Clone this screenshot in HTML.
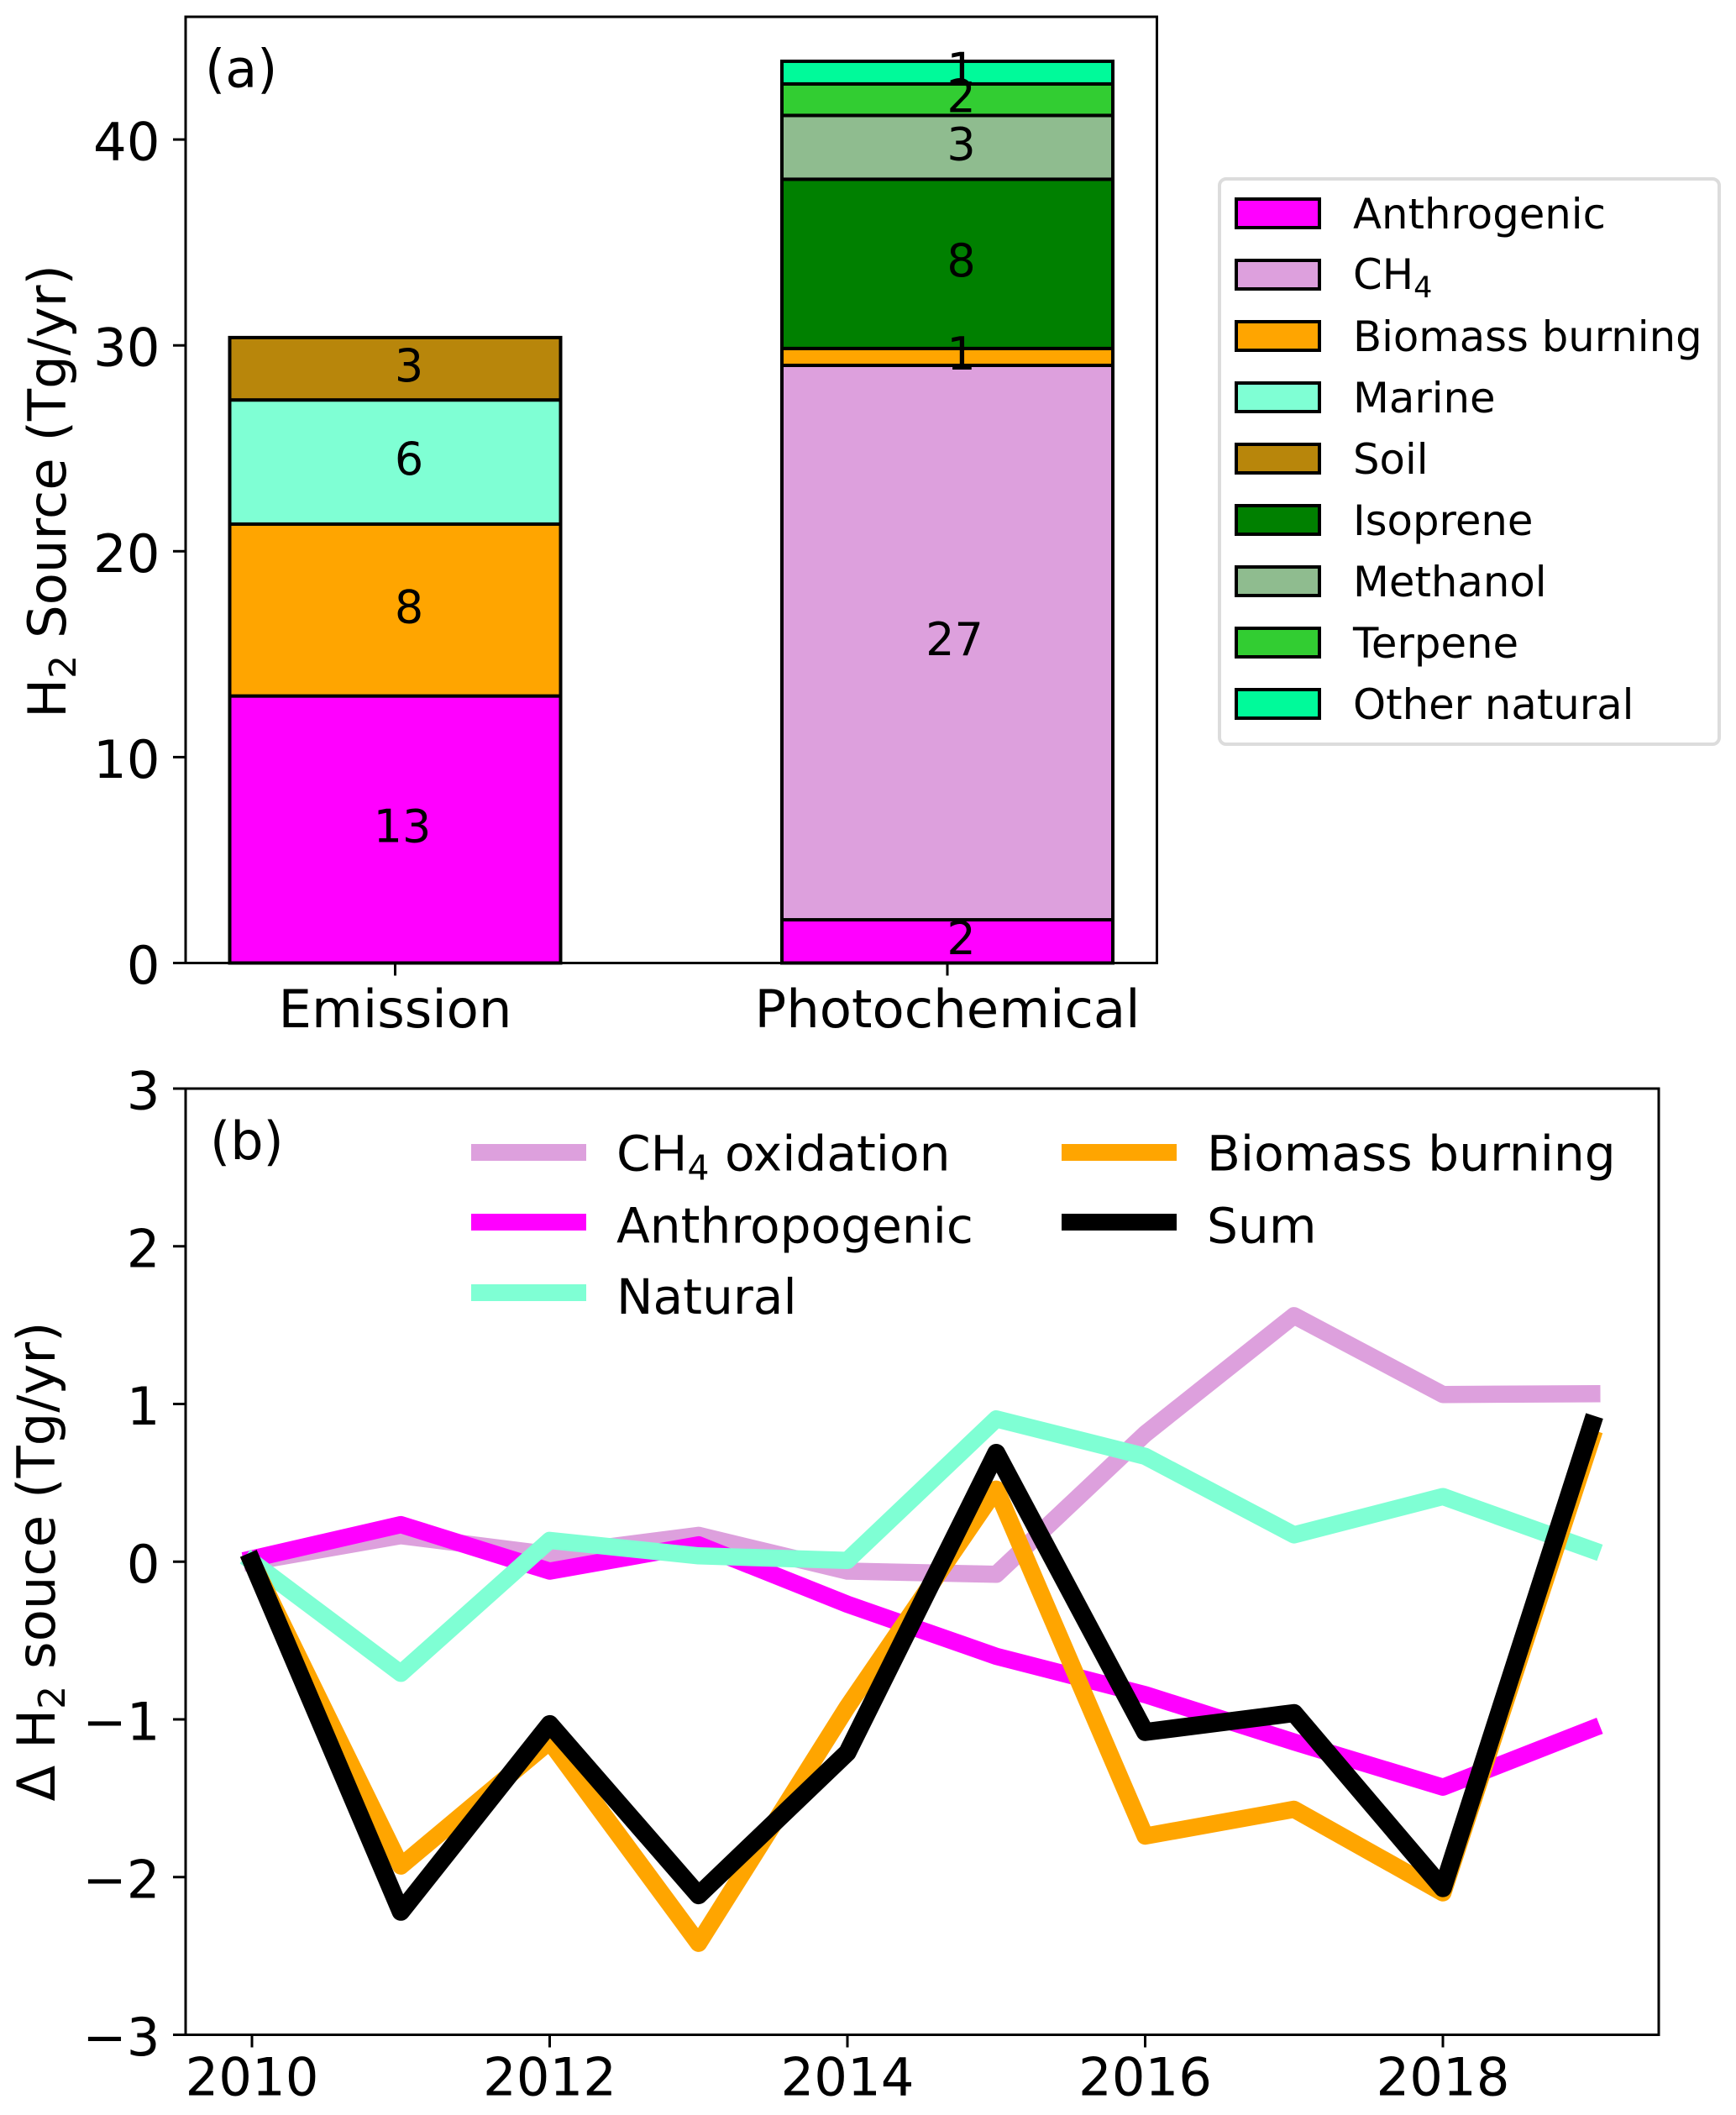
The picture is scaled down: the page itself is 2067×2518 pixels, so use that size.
<!DOCTYPE html>
<html>
<head>
<meta charset="utf-8">
<title>H2 source chart</title>
<style>
html,body{margin:0;padding:0;background:#fff;}
svg{display:block;}
text{font-family:"DejaVu Sans","Liberation Sans",sans-serif;fill:#000;}
</style>
</head>
<body>
<svg id="chart" xmlns="http://www.w3.org/2000/svg" width="2067" height="2518" viewBox="0 0 2067 2518">
  <rect x="0" y="0" width="2067" height="2518" fill="#fff"/>
  <g id="bars-layer"></g>
  <g id="bar-labels-layer"></g>
  <rect x="221" y="20" width="1156.5" height="1126.5" fill="none" stroke="#000" stroke-width="3"/>
  <g id="ticks-a"></g>
  <text x="244" y="103.5" font-size="62">(a)</text>
  <text transform="translate(78,585) rotate(-90)" font-size="62.5" text-anchor="middle">H<tspan font-size="44" dy="12">2</tspan><tspan dy="-12"> Source (Tg/yr)</tspan></text>

  <g>
    <rect x="1452" y="213" width="595" height="673" rx="8" ry="8" fill="#fff" stroke="#dcdcdc" stroke-width="4"/>
    <g><rect x="1472" y="237" width="99" height="34" fill="#ff00ff" stroke="#000" stroke-width="4"/><text x="1611" y="272" font-size="49.7">Anthrogenic</text></g>
    <g><rect x="1472" y="310" width="99" height="34" fill="#dda0dd" stroke="#000" stroke-width="4"/><text x="1611" y="344" font-size="49.7">CH<tspan font-size="35" dy="10">4</tspan></text></g>
    <g><rect x="1472" y="383" width="99" height="34" fill="#ffa500" stroke="#000" stroke-width="4"/><text x="1611" y="418" font-size="49.7">Biomass burning</text></g>
    <g><rect x="1472" y="456" width="99" height="34" fill="#7fffd4" stroke="#000" stroke-width="4"/><text x="1611" y="491" font-size="49.7">Marine</text></g>
    <g><rect x="1472" y="529" width="99" height="34" fill="#b8860b" stroke="#000" stroke-width="4"/><text x="1611" y="564" font-size="49.7">Soil</text></g>
    <g><rect x="1472" y="602" width="99" height="34" fill="#008000" stroke="#000" stroke-width="4"/><text x="1611" y="637" font-size="49.7">Isoprene</text></g>
    <g><rect x="1472" y="675" width="99" height="34" fill="#8fbc8f" stroke="#000" stroke-width="4"/><text x="1611" y="710" font-size="49.7">Methanol</text></g>
    <g><rect x="1472" y="748" width="99" height="34" fill="#32cd32" stroke="#000" stroke-width="4"/><text x="1611" y="783" font-size="49.7">Terpene</text></g>
    <g><rect x="1472" y="821" width="99" height="34" fill="#00fa9a" stroke="#000" stroke-width="4"/><text x="1611" y="856" font-size="49.7">Other natural</text></g>
  </g>

  <g id="lines-layer"></g>
  <rect x="221" y="1296" width="1754" height="1126.5" fill="none" stroke="#000" stroke-width="3"/>
  <g id="ticks-b"></g>
  <text x="250" y="1380" font-size="62">(b)</text>
  <text transform="translate(65,1859) rotate(-90)" font-size="62.5" text-anchor="middle">Δ H<tspan font-size="44" dy="12">2</tspan><tspan dy="-12"> souce (Tg/yr)</tspan></text>

  <g>
    <g><rect x="561" y="1362" width="137" height="20" fill="#dda0dd"/><text x="734" y="1393.5" font-size="58.2">CH<tspan font-size="41" dy="11">4</tspan><tspan dy="-11"> oxidation</tspan></text></g>
    <g><rect x="561" y="1445" width="137" height="20" fill="#ff00ff"/><text x="734" y="1479.5" font-size="58.2">Anthropogenic</text></g>
    <g><rect x="561" y="1529" width="137" height="20" fill="#7fffd4"/><text x="734" y="1564" font-size="58.2">Natural</text></g>
    <g><rect x="1264" y="1362" width="137" height="20" fill="#ffa500"/><text x="1437" y="1393.5" font-size="58.2">Biomass burning</text></g>
    <g><rect x="1264" y="1445" width="137" height="20" fill="#000"/><text x="1437" y="1479.5" font-size="58.2">Sum</text></g>
  </g>
</svg>

<script>
// Panel (a) data
const barCategories = ['Emission', 'Photochemical'];
const anthropogenicSource = [12.97, 2.1];
const ch4Source = [0, 26.93];
const biomassSource = [8.35, 0.82];
const marineSource = [6.03, 0];
const soilSource = [3.03, 0];
const isopreneSource = [0, 8.22];
const methanolSource = [0, 3.1];
const terpeneSource = [0, 1.53];
const otherNaturalSource = [0, 1.1];
const yTicksA = [0, 10, 20, 30, 40];
const yTickLabelsA = ['0', '10', '20', '30', '40'];

// Panel (b) data
const years = [2010, 2011, 2012, 2013, 2014, 2015, 2016, 2017, 2018, 2019];
const ch4Oxidation = [0, 0.165, 0.046, 0.167, -0.06, -0.08, 0.81, 1.56, 1.06, 1.065];
const anthropogenic = [0.018, 0.235, -0.06, 0.107, -0.27, -0.6, -0.843, -1.143, -1.43, -1.06];
const natural = [0, -0.708, 0.135, 0.037, 0.008, 0.905, 0.668, 0.17, 0.413, 0.075];
const biomassBurning = [0, -1.93, -1.14, -2.42, -0.92, 0.46, -1.74, -1.57, -2.1, 0.78];
const sumSeries = [0, -2.22, -1.03, -2.115, -1.21, 0.69, -1.08, -0.96, -2.07, 0.87];
const xTicksB = [2010, 2012, 2014, 2016, 2018];
const xTickLabelsB = ['2010', '2012', '2014', '2016', '2018'];
const yTicksB = [-3, -2, -1, 0, 1, 2, 3];
const yTickLabelsB = ['\u22123', '\u22122', '\u22121', '0', '1', '2', '3'];

const NS = 'http://www.w3.org/2000/svg';
function xA(i) { return 470.5 + 657.5 * i; }
function yA(v) { return 1146.5 - 24.51 * v; }
function xB(year) { return 300 + 177.25 * (year - 2010); }
function yB(v) { return 1859.25 - 187.75 * v; }

function make(tag, attrs, parent) {
  const el = document.createElementNS(NS, tag);
  for (const k in attrs) el.setAttribute(k, attrs[k]);
  parent.appendChild(el);
  return el;
}
function makeText(str, x, y, size, anchor, parent) {
  const el = make('text', {
    x: x,
    y: y,
    'font-size': size,
    'text-anchor': anchor
  }, parent);
  el.textContent = str;
  return el;
}

const barStack = [
  { key: 'anthrogenic', values: anthropogenicSource, color: '#ff00ff' },
  { key: 'ch4', values: ch4Source, color: '#dda0dd' },
  { key: 'biomass', values: biomassSource, color: '#ffa500' },
  { key: 'marine', values: marineSource, color: '#7fffd4' },
  { key: 'soil', values: soilSource, color: '#b8860b' },
  { key: 'isoprene', values: isopreneSource, color: '#008000' },
  { key: 'methanol', values: methanolSource, color: '#8fbc8f' },
  { key: 'terpene', values: terpeneSource, color: '#32cd32' },
  { key: 'other-natural', values: otherNaturalSource, color: '#00fa9a' }
];

const barsLayer = document.getElementById('bars-layer');
const barLabelsLayer = document.getElementById('bar-labels-layer');
barCategories.forEach(function (cat, i) {
  let base = 0;
  const halfWidth = 197;
  barStack.forEach(function (s) {
    const v = s.values[i];
    if (!v) return;
    const top = yA(base + v);
    const bottom = yA(base);
    const rect = make('rect', {
      x: xA(i) - halfWidth,
      y: top,
      width: halfWidth * 2,
      height: bottom - top,
      fill: s.color,
      stroke: '#000',
      'stroke-width': 4
    }, barsLayer);
    
    
    base += v;
  });
  base = 0;
  barStack.forEach(function (s) {
    const v = s.values[i];
    if (!v) return;
    const printed = String(Math.round(v));
    const mid = (yA(base) + yA(base + v)) / 2;
    const offset = printed.length > 1 ? 8.5 : 16.5;
    const label = makeText(printed, xA(i) + offset, mid + 15, 54, 'middle', barLabelsLayer);
    
    
    base += v;
  });
});

const ticksA = document.getElementById('ticks-a');
yTicksA.forEach(function (t, i) {
  const tick = make('line', { x1: 206, x2: 221, y1: yA(t), y2: yA(t), stroke: '#000', 'stroke-width': 3 }, ticksA);
  
  
  const label = makeText(yTickLabelsA[i], 190.5, yA(t) + 24.5, 62.5, 'end', ticksA);
  
  
});
barCategories.forEach(function (cat, i) {
  const tick = make('line', { x1: xA(i), x2: xA(i), y1: 1146.5, y2: 1161.5, stroke: '#000', 'stroke-width': 3 }, ticksA);
  
  
  const label = makeText(cat, xA(i), 1223, 62.5, 'middle', ticksA);
  
  
});

const lineSeries = [
  { key: 'ch4-oxidation', values: ch4Oxidation, color: '#dda0dd', width: 20.5 },
  { key: 'anthropogenic', values: anthropogenic, color: '#ff00ff', width: 20.5 },
  { key: 'natural', values: natural, color: '#7fffd4', width: 20.5 },
  { key: 'biomass-burning', values: biomassBurning, color: '#ffa500', width: 20.5 },
  { key: 'sum', values: sumSeries, color: '#000000', width: 21.5 }
];
const linesLayer = document.getElementById('lines-layer');
lineSeries.forEach(function (s) {
  const pts = s.values.map(function (v, i) { return xB(years[i]) + ',' + yB(v); }).join(' ');
  const line = make('polyline', {
    points: pts,
    fill: 'none',
    stroke: s.color,
    'stroke-width': s.width,
    'stroke-linejoin': 'round',
    'stroke-linecap': 'square'
  }, linesLayer);
  
  
});

const ticksB = document.getElementById('ticks-b');
yTicksB.forEach(function (t, i) {
  const tick = make('line', { x1: 206, x2: 221, y1: yB(t), y2: yB(t), stroke: '#000', 'stroke-width': 3 }, ticksB);
  
  
  const label = makeText(yTickLabelsB[i], 190.5, yB(t) + 24.5, 62.5, 'end', ticksB);
  
  
});
xTicksB.forEach(function (t, i) {
  const tick = make('line', { x1: xB(t), x2: xB(t), y1: 2422.5, y2: 2437.5, stroke: '#000', 'stroke-width': 3 }, ticksB);
  
  
  const label = makeText(xTickLabelsB[i], xB(t), 2494.5, 62.5, 'middle', ticksB);
  
  
});
</script>
</body>
</html>
